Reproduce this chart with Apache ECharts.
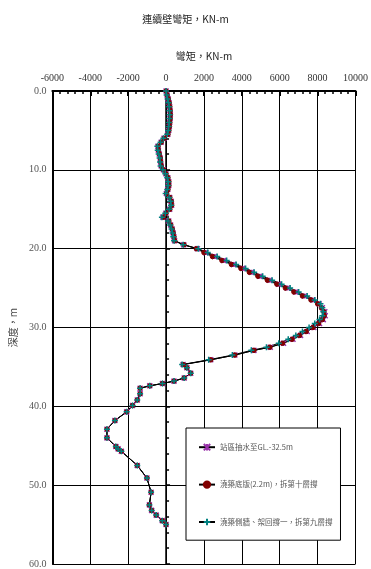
<!DOCTYPE html>
<html><head><meta charset="utf-8">
<script src="https://cdn.jsdelivr.net/npm/echarts@6/dist/echarts.min.js"></script>
<style>html,body{margin:0;padding:0;background:#fff}#c{width:371px;height:569px}</style>
</head><body><div id="c"></div>
<script>
var seriesNames = ['站區抽水至GL.-32.5m', '澆築底版(2.2m)，拆第十層撐', '澆築側牆、架回撐一，拆第九層撐'];
var depths = [0,0.5,1,1.5,2,2.5,3,3.5,4,4.5,5,5.5,6,6.5,7,7.5,8,8.5,9,9.5,10,10.5,11,11.5,12,12.5,13,13.5,14,14.5,15,15.5,16,16.5,17,17.5,18,18.5,19,19.5,20,20.5,21,21.5,22,22.5,23,23.5,24,24.5,25,25.5,26,26.5,27,27.5,28,28.5,29,29.5,30,30.5,31,31.5,32,32.5,
  32.9,33.5,34.1,34.7,35.1,35.8,36.4,36.8,37.1,37.4,37.7,38.4,39.2,39.9,40.7,41.8,42.9,44.0,45.1,45.4,45.7,47.5,49.1,50.9,52.5,53.2,53.8,54.5,55.0];
var momentPumping = [0,50,110,160,190,210,220,210,190,170,140,90,-110,-260,-430,-410,-360,-310,-290,-260,-140,-10,90,140,140,90,20,190,270,290,190,-10,-170,140,240,320,370,410,450,930,1650,2100,2550,3050,3550,4050,4500,4950,5450,5950,6400,6850,7300,7750,8080,8250,8380,8400,8300,8100,7800,7450,7100,6700,6200,5500,
  4640,3630,2360,900,1100,1300,960,420,-190,-860,-1370,-1370,-1520,-1770,-2080,-2700,-3120,-3120,-2650,-2530,-2360,-1520,-1010,-790,-880,-760,-520,-200,0];
var momentBaseSlab = [0,60,120,170,200,220,230,220,200,180,150,100,-100,-250,-420,-400,-350,-300,-280,-250,-130,0,100,150,150,100,30,200,280,300,200,0,-150,150,250,330,380,420,460,950,1600,2000,2450,2950,3450,3950,4400,4850,5350,5850,6300,6750,7200,7650,8000,8200,8330,8350,8250,8050,7750,7400,7050,6650,6150,5480,
  4640,3630,2360,900,1100,1300,960,420,-190,-860,-1370,-1370,-1520,-1770,-2080,-2700,-3120,-3120,-2650,-2530,-2360,-1520,-1010,-790,-880,-760,-520,-200,0];
var momentSideWall = [0,30,80,130,160,180,190,180,160,140,110,60,-140,-290,-460,-440,-390,-340,-320,-290,-170,-40,60,110,110,60,-20,160,240,260,160,-40,-220,100,210,290,340,380,420,900,1700,2200,2700,3200,3700,4200,4650,5100,5600,6100,6550,7000,7450,7850,8150,8250,8300,8250,8100,7850,7550,7200,6850,6450,5950,5300,
  4500,3500,2250,850,1100,1300,960,420,-190,-860,-1370,-1370,-1520,-1770,-2080,-2700,-3120,-3120,-2650,-2530,-2360,-1520,-1010,-790,-880,-760,-520,-200,0];

function pairs(vals){ return vals.map(function(v,i){ return [v, depths[i]]; }); }

var serif = "'Liberation Serif', 'DejaVu Serif', serif";
var cjk = "'Noto Sans CJK TC', sans-serif";
var chart = echarts.init(document.getElementById('c'), null, {renderer:'canvas'});
var symAst = 'path://M0,0L10,10M10,0L0,10M5,0L5,10';
var symPlus = 'path://M5,0L5,10M0,5L10,5';
function mk(name, vals, sym, col, size, filled){
  return {
    name: name, type: 'line', data: pairs(vals), yAxisIndex: 0,
    symbol: sym, symbolSize: size, showSymbol: true,
    lineStyle: {color:'#000', width:1},
    itemStyle: filled ? {color: col, borderColor: col, borderWidth: 1} : {color: 'rgba(0,0,0,0)', borderColor: col, borderWidth: 1.5},
    emphasis: {disabled: true}, animation: false
  };
}
var option = {
  backgroundColor: '#fff',
  animation: false,
  title: {text: '連續壁彎矩，KN-m', left: 'center', top: 9,
    textStyle: {fontFamily: cjk, fontSize: 10, fontWeight: 'normal', color: '#222'}},
  grid: {left: 47, right: 8, top: 91, bottom: 1, containLabel: false},
  xAxis: {type: 'value', position: 'top', min: -6000, max: 10000, interval: 2000,
    name: '彎矩，KN-m', nameLocation: 'middle', nameGap: 30,
    nameTextStyle: {fontFamily: cjk, fontSize: 10, color: '#222'},
    axisLine: {show: true, lineStyle: {color: '#000', width: 2}},
    axisTick: {show: true, inside: true, length: 5, lineStyle: {color:'#000', width: 2}},
    minorTick: {show: true, splitNumber: 5, length: 3, lineStyle: {color:'#000', width: 1.5}},
    axisLabel: {fontFamily: serif, fontSize: 10, color: '#333', margin: 8, formatter: function(v){return String(v);}},
    splitLine: {show: true, lineStyle: {color: '#000', width: 1}}},
  yAxis: [
    {type: 'value', inverse: true, min: 0, max: 60, interval: 10,
     name: '深度，m', nameLocation: 'middle', nameGap: 30,
     nameTextStyle: {fontFamily: cjk, fontSize: 10, color: '#444'},
     axisLine: {show: true, onZero: false, lineStyle: {color: '#000', width: 2}},
     axisTick: {show: false},
     axisLabel: {fontFamily: serif, fontSize: 10, color: '#555', margin: 6, formatter: function(v){return v.toFixed(1);}},
     splitLine: {show: true, lineStyle: {color: '#000', width: 1}}},
    {type: 'value', inverse: true, min: 0, max: 60, interval: 10, position: 'left',
     axisLine: {show: true, onZero: true, lineStyle: {color: '#000', width: 1.5}},
     axisTick: {show: true, inside: true, length: 4, lineStyle: {color:'#000', width: 1.5}},
     minorTick: {show: true, splitNumber: 5, length: 3, lineStyle: {color:'#000', width: 1.5}},
     axisLabel: {show: false}, splitLine: {show: false}}
  ],
  legend: {orient: 'vertical', left: 186, top: 428, itemWidth: 16, itemHeight: 8, itemGap: 29,
    padding: [15, 8, 14, 12], backgroundColor: '#fff', borderColor: '#000', borderWidth: 1,
    textStyle: {fontFamily: cjk, fontSize: 7.5, color: '#555'},
    data: seriesNames},
  series: [
    mk(seriesNames[0], momentPumping, symAst, '#9933aa', 5, false),
    mk(seriesNames[1], momentBaseSlab, 'circle', '#800000', 4.5, true),
    mk(seriesNames[2], momentSideWall, symPlus, '#008080', 6, false)
  ]
};
chart.setOption(option);
</script></body></html>
